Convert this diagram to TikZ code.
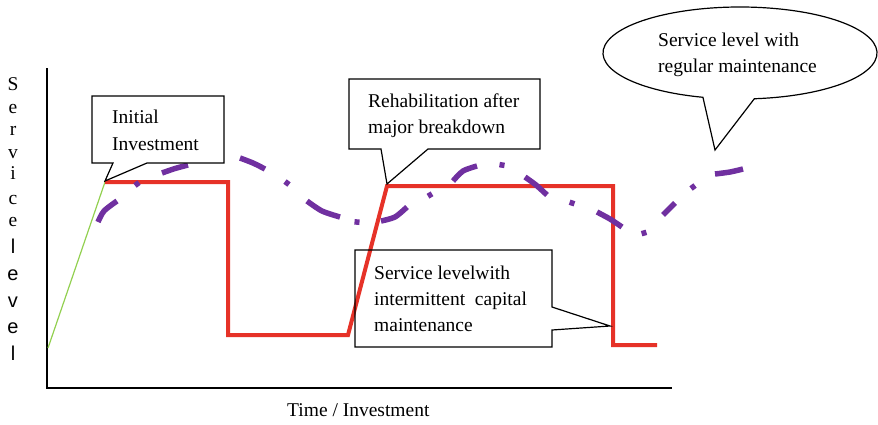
\documentclass[tikz,border=0pt]{standalone}
\usepackage{fontspec}
\usetikzlibrary{calc}
\setmainfont{Liberation Serif}
\newfontfamily\axsans{Liberation Sans}
\definecolor{sred}{RGB}{230,50,40}
\definecolor{spurple}{RGB}{112,48,160}
\definecolor{sgreen}{RGB}{146,208,80}
\begin{document}
\begin{tikzpicture}[x=1pt,y=-1pt,
  lbl/.style={anchor=base west,inner sep=0pt,font=\fontsize{19.5}{26}\selectfont},
  ylet/.style={anchor=base,inner sep=0pt,font=\fontsize{19.5}{24}\selectfont},
  ysans/.style={anchor=base,inner sep=0pt,font=\axsans\fontsize{20}{24}\selectfont},
  axisline/.style={line width=1.8pt,black},
  callout/.style={draw=black,line width=1.2pt,fill=white,line join=miter},
  redline/.style={draw=sred,line width=4pt,line join=miter},
  regular/.style={draw=spurple,line width=5.5pt,line cap=butt},
]
\useasboundingbox (0,0) rectangle (878,424);

% axes
\coordinate (top) at (47,68);
\coordinate (origin) at (47,388);
\coordinate (xend) at (672,388);
\draw[axisline] (top) -- (origin) -- (xend);

% axis labels
\node[lbl] (xlabel) at (287,416) {Time / Investment};
\node[ylet] (y1) at (13,90) {S};
\node[ylet] (y2) at (13,113) {e};
\node[ylet] (y3) at (13,135) {r};
\node[ylet] (y4) at (13,158) {v};
\node[ylet] (y5) at (13,179) {i};
\node[ylet] (y6) at (13,204) {c};
\node[ylet] (y7) at (13,226) {e};
\node[ysans] (y8) at (13,253) {l};
\node[ysans] (y9) at (13,280) {e};
\node[ysans] (y10) at (13,307) {v};
\node[ysans] (y11) at (13,333) {e};
\node[ysans] (y12) at (13,360) {l};

% initial investment ramp
\coordinate (g0) at (48,348);
\coordinate (r0) at (105,182);
\draw[sgreen,line width=1.2pt] (g0) -- (r0);

% service level with intermittent capital maintenance
\draw[redline] (r0) -- (228,182) -- (228,335) -- (348,335) -- (387,186) -- (613,186) -- (613,345) -- (657,345);

% service level with regular maintenance: dash-dot curve, one stroke per dash
\foreach \pts in {
  {(98,222) (104,211) (117,201)},
  {(162,173) (175,168.5) (188,165)},
  {(240,158) (253,163) (265,169)},
  {(307,201) (322,211) (340,217)},
  {(381,221) (395,217) (407,207)},
  {(453,181) (463,171) (477,166)},
  {(525,177) (536,185) (547,195)},
  {(597,212) (610,219) (622,227)},
  {(663,215) (669,209) (675,203)},
  {(715,174) (730,172) (743,169)}}
  \draw[regular] plot[smooth] coordinates \pts;
% the dots between the dashes
\foreach \ax/\ay/\bx/\by in {
  135/185.5/139/182.5, 210.5/160.3/215.5/159.7, 285/181.5/289/184.5,
  354.5/221.8/359.5/222.3, 428/196.2/432/193.8, 499.5/164.6/504.5/165.4,
  569.6/202.2/574.4/203.8, 641.6/233.7/646.4/232.3, 691/188.5/695/185.5}
  \draw[regular] (\ax,\ay) -- (\bx,\by);

% callouts
\coordinate (tipA) at (105,181);
\draw[callout] (92,96) -- (224,96) -- (224,163) -- (147,163) -- (tipA) -- (113,163) -- (92,163) -- cycle;
\coordinate (tipB) at (387,184);
\draw[callout] (349,79) -- (540,79) -- (540,149) -- (428,149) -- (tipB) -- (381,149) -- (349,149) -- cycle;
\coordinate (tipC) at (610,326);
\draw[callout,fill=none] (355,250) -- (552,250) -- (552,307) -- (tipC) -- (552,330) -- (552,347) -- (355,347) -- cycle;
\coordinate (ellc) at (740,53);
\coordinate (tipD) at (715,150);
\draw[callout] ($(ellc)+(105.7:137 and 46)$) arc[start angle=105.7,end angle=444,x radius=137,y radius=46] -- (tipD) -- cycle;

% callout texts
\node[lbl] (a1) at (112,123) {Initial};
\node[lbl] (a2) at (112,150) {Investment};
\node[lbl] (b1) at (368,107) {Rehabilitation after};
\node[lbl] (b2) at (368,133) {major breakdown};
\node[lbl] (c1) at (374,279) {Service levelwith};
\node[lbl] (c2) at (374,305) {intermittent\ \ capital};
\node[lbl] (c3) at (374,331) {maintenance};
\node[lbl] (d1) at (658,46) {Service level with};
\node[lbl] (d2) at (658,72) {regular maintenance};
\end{tikzpicture}
\end{document}
